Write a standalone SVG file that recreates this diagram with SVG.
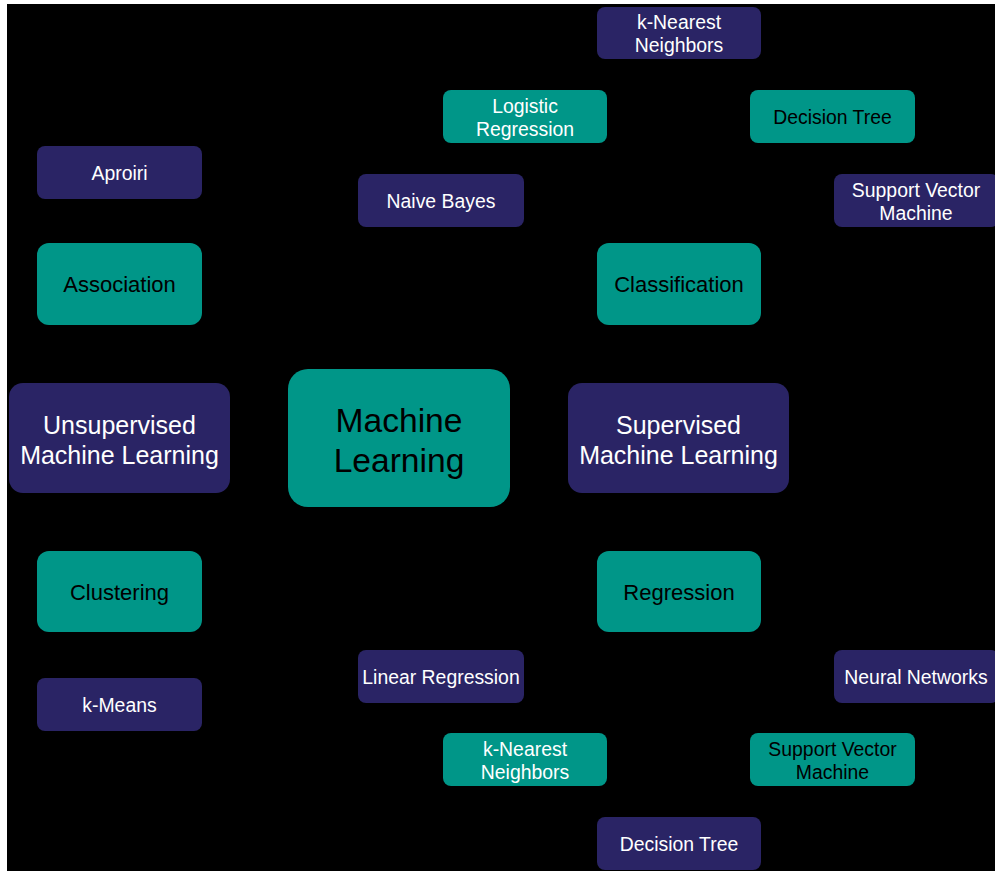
<svg xmlns="http://www.w3.org/2000/svg" width="995" height="871" viewBox="0 0 995 871">
  <style>
    .teal { fill: #009688; }
    .navy { fill: #2a2465; }
    text { font-family: "Liberation Sans", Arial, sans-serif; text-anchor: middle; dominant-baseline: central; }
    .dark { fill: #000000; }
    .light { fill: #ffffff; }
    .s { font-size: 19.4px; }
    .m { font-size: 22px; }
    .l { font-size: 25px; }
    .xl { font-size: 33.6px; }
  </style>
  <rect x="0" y="0" width="995" height="871" fill="#ffffff"/>
  <rect x="7" y="4" width="988" height="867" fill="#000000"/>

  <g id="connectors"></g>

  <g id="ml">
    <rect class="teal" x="288" y="369" width="222" height="138" rx="20"/>
    <text class="dark xl" x="399" y="420">Machine</text>
    <text class="dark xl" x="399" y="460">Learning</text>
  </g>

  <g id="unsupervised">
    <rect class="navy" x="9" y="383" width="221" height="110" rx="14"/>
    <text class="light l" x="119.5" y="425">Unsupervised</text>
    <text class="light l" x="119.5" y="455">Machine Learning</text>
  </g>

  <g id="supervised">
    <rect class="navy" x="568" y="383" width="221" height="110" rx="14"/>
    <text class="light l" x="678.5" y="425">Supervised</text>
    <text class="light l" x="678.5" y="455">Machine Learning</text>
  </g>

  <g id="association">
    <rect class="teal" x="37" y="243" width="165" height="82" rx="12"/>
    <text class="dark m" x="119.5" y="284">Association</text>
  </g>

  <g id="clustering">
    <rect class="teal" x="37" y="551" width="165" height="81" rx="12"/>
    <text class="dark m" x="119.5" y="592">Clustering</text>
  </g>

  <g id="classification">
    <rect class="teal" x="597" y="243" width="164" height="82" rx="12"/>
    <text class="dark m" x="679" y="284">Classification</text>
  </g>

  <g id="regression">
    <rect class="teal" x="597" y="551" width="164" height="81" rx="12"/>
    <text class="dark m" x="679" y="592">Regression</text>
  </g>

  <g id="aproiri">
    <rect class="navy" x="37" y="146" width="165" height="53" rx="8"/>
    <text class="light s" x="119.5" y="173">Aproiri</text>
  </g>

  <g id="kmeans">
    <rect class="navy" x="37" y="678" width="165" height="53" rx="8"/>
    <text class="light s" x="119.5" y="705">k-Means</text>
  </g>

  <g id="knn-class">
    <rect class="navy" x="597" y="7" width="164" height="52" rx="8"/>
    <text class="light s" x="679" y="22">k-Nearest</text>
    <text class="light s" x="679" y="45">Neighbors</text>
  </g>

  <g id="logistic">
    <rect class="teal" x="443" y="90" width="164" height="53" rx="8"/>
    <text class="light s" x="525" y="106">Logistic</text>
    <text class="light s" x="525" y="129">Regression</text>
  </g>

  <g id="tree-class">
    <rect class="teal" x="750" y="90" width="165" height="53" rx="8"/>
    <text class="dark s" x="832.5" y="117">Decision Tree</text>
  </g>

  <g id="bayes">
    <rect class="navy" x="358" y="174" width="166" height="53" rx="8"/>
    <text class="light s" x="441" y="201">Naive Bayes</text>
  </g>

  <g id="svm-class">
    <rect class="navy" x="834" y="174" width="165" height="53" rx="8"/>
    <text class="light s" x="916" y="190">Support Vector</text>
    <text class="light s" x="916" y="213">Machine</text>
  </g>

  <g id="linear">
    <rect class="navy" x="358" y="650" width="166" height="53" rx="8"/>
    <text class="light s" x="441" y="677">Linear Regression</text>
  </g>

  <g id="neural">
    <rect class="navy" x="834" y="650" width="165" height="53" rx="8"/>
    <text class="light s" x="916" y="677">Neural Networks</text>
  </g>

  <g id="knn-reg">
    <rect class="teal" x="443" y="733" width="164" height="53" rx="8"/>
    <text class="light s" x="525" y="749">k-Nearest</text>
    <text class="light s" x="525" y="772">Neighbors</text>
  </g>

  <g id="svm-reg">
    <rect class="teal" x="750" y="733" width="165" height="53" rx="8"/>
    <text class="dark s" x="832.5" y="749">Support Vector</text>
    <text class="dark s" x="832.5" y="772">Machine</text>
  </g>

  <g id="tree-reg">
    <rect class="navy" x="597" y="817" width="164" height="53" rx="8"/>
    <text class="light s" x="679" y="844">Decision Tree</text>
  </g>
</svg>
